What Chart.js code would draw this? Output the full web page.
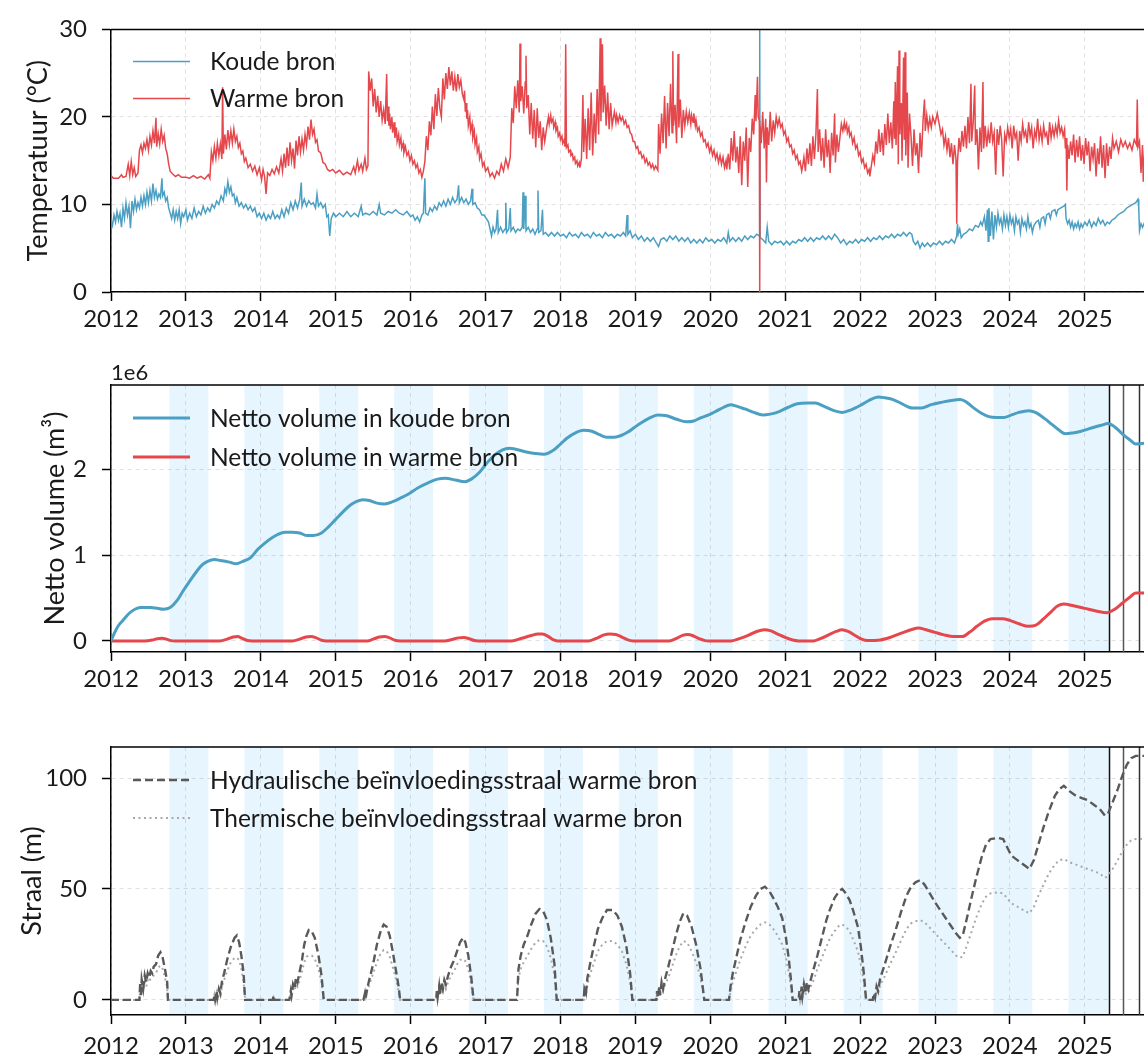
<!DOCTYPE html>
<html>
<head>
<meta charset="utf-8">
<title>Bronnen</title>
<script src="https://cdn.jsdelivr.net/npm/chart.js@4.4.1/dist/chart.umd.min.js"></script>
<style>
    html, body { margin: 0; padding: 0; background: #fff; overflow: hidden; }
    #wrap { position: relative; width: 1144px; height: 1059px; }
    .paneel { position: absolute; left: 0; width: 1144px; }
    canvas { display: block; }
</style>
</head>
<body>
<div id="wrap">
    <div class="paneel" style="top:0"><canvas id="tempChart" width="1144" height="340"></canvas></div>
    <div class="paneel" style="top:340px"><canvas id="volumeChart" width="1144" height="360"></canvas></div>
    <div class="paneel" style="top:700px"><canvas id="straalChart" width="1144" height="359"></canvas></div>
</div>
<script>
// Data (x = decimal year)
const jaren = [2012, 2013, 2014, 2015, 2016, 2017, 2018, 2019, 2020, 2021, 2022, 2023, 2024, 2025];
const xEinde = 2025.79;

const koudeBron = [
    [2012.00,8.2],[2012.02,7.6],[2012.04,8.8],[2012.06,8.0],[2012.08,9.2],[2012.10,8.2],[2012.12,9.0],[2012.14,7.4],[2012.16,9.6],[2012.18,8.4],
    [2012.20,10.2],[2012.22,8.8],[2012.24,9.8],[2012.26,7.3],[2012.28,10.4],[2012.30,9.2],[2012.32,10.6],[2012.34,9.4],[2012.36,10.2],[2012.38,9.6],
    [2012.40,10.8],[2012.42,9.8],[2012.44,11.0],[2012.46,10.0],[2012.48,11.4],[2012.50,10.2],[2012.52,11.6],[2012.54,10.4],[2012.56,12.4],[2012.58,10.8],
    [2012.60,11.6],[2012.62,10.6],[2012.64,11.2],[2012.66,10.8],[2012.68,13.0],[2012.69,11.0],[2012.71,11.4],[2012.73,10.4],[2012.75,10.8],[2012.77,9.6],
    [2012.79,9.0],[2012.81,8.4],[2012.83,9.4],[2012.85,8.2],[2012.87,9.2],[2012.89,8.4],[2012.91,9.4],[2012.93,7.8],[2012.95,9.0],[2012.97,8.6],
    [2013.00,9.4],[2013.02,8.2],[2013.05,9.0],[2013.08,8.4],[2013.11,9.6],[2013.14,8.6],[2013.17,9.2],[2013.20,8.8],[2013.23,9.8],[2013.26,9.0],
    [2013.29,9.6],[2013.32,9.2],[2013.35,10.0],[2013.38,9.6],[2013.41,10.4],[2013.44,10.0],[2013.47,11.0],[2013.50,10.4],[2013.52,11.8],[2013.54,11.2],
    [2013.56,12.6],[2013.58,11.4],[2013.60,12.0],[2013.62,11.0],[2013.64,11.2],[2013.66,10.2],[2013.68,10.8],[2013.71,9.8],[2013.74,10.2],[2013.77,9.6],
    [2013.80,10.0],[2013.83,9.4],[2013.86,9.8],[2013.89,9.2],[2013.92,9.6],[2013.95,8.6],[2013.98,9.0],[2014.01,8.4],[2014.04,9.0],[2014.07,8.2],
    [2014.10,8.8],[2014.13,8.4],[2014.16,9.2],[2014.19,8.4],[2014.22,8.8],[2014.25,8.4],[2014.28,9.4],[2014.31,8.6],[2014.34,9.6],[2014.37,9.0],
    [2014.40,10.2],[2014.43,9.4],[2014.46,10.4],[2014.49,9.6],[2014.52,10.6],[2014.54,12.5],[2014.55,9.8],[2014.58,10.6],[2014.61,9.8],[2014.64,10.4],
    [2014.67,10.0],[2014.70,10.2],[2014.73,9.6],[2014.75,11.2],[2014.77,9.8],[2014.80,10.2],[2014.83,9.6],[2014.86,10.0],[2014.88,8.6],[2014.90,8.8],
    [2014.92,6.4],[2014.94,8.4],[2014.97,9.0],[2015.00,8.6],[2015.05,9.0],[2015.10,8.6],[2015.15,9.2],[2015.20,8.6],[2015.25,9.0],[2015.30,8.6],
    [2015.34,9.8],[2015.36,8.8],[2015.40,9.0],[2015.45,8.8],[2015.50,9.2],[2015.55,8.8],[2015.58,10.0],[2015.60,9.0],[2015.65,8.8],[2015.70,9.2],
    [2015.75,9.0],[2015.80,9.4],[2015.85,9.0],[2015.90,8.8],[2015.95,9.2],[2016.00,8.6],[2016.03,8.8],[2016.06,8.2],[2016.09,8.6],[2016.12,8.0],
    [2016.15,8.8],[2016.17,9.0],[2016.19,13.0],[2016.20,9.0],[2016.23,8.8],[2016.26,9.6],[2016.29,9.2],[2016.32,9.8],[2016.35,9.4],[2016.38,10.2],
    [2016.41,9.8],[2016.44,10.4],[2016.47,9.8],[2016.50,10.6],[2016.53,10.0],[2016.56,10.8],[2016.59,10.2],[2016.62,10.6],[2016.64,12.2],[2016.65,10.2],
    [2016.68,10.8],[2016.71,10.2],[2016.74,10.6],[2016.77,10.0],[2016.80,10.4],[2016.82,11.8],[2016.83,10.0],[2016.86,10.2],[2016.89,9.6],[2016.92,9.4],
    [2016.95,8.8],[2016.98,8.8],[2017.01,8.4],[2017.04,8.0],[2017.06,7.2],[2017.08,6.4],[2017.10,7.4],[2017.12,6.8],[2017.14,7.2],[2017.16,9.4],
    [2017.17,6.8],[2017.20,7.4],[2017.23,6.8],[2017.26,7.2],[2017.27,10.2],[2017.28,6.8],[2017.31,7.2],[2017.33,9.6],[2017.34,7.0],[2017.37,7.4],
    [2017.40,6.8],[2017.43,7.2],[2017.46,7.0],[2017.49,7.4],[2017.50,11.4],[2017.51,7.2],[2017.53,11.0],[2017.54,7.0],[2017.57,7.4],[2017.60,6.8],
    [2017.63,7.2],[2017.66,6.6],[2017.69,7.2],[2017.70,11.6],[2017.71,6.8],[2017.74,7.0],[2017.76,9.4],[2017.77,6.6],[2017.80,6.8],[2017.84,6.4],
    [2017.88,6.8],[2017.92,6.4],[2017.96,6.8],[2018.00,6.4],[2018.04,6.6],[2018.08,6.2],[2018.12,6.8],[2018.16,6.4],[2018.20,6.6],[2018.24,6.2],
    [2018.28,6.8],[2018.32,6.4],[2018.36,6.6],[2018.40,6.2],[2018.44,6.8],[2018.48,6.4],[2018.52,6.6],[2018.56,6.2],[2018.60,6.8],[2018.64,6.4],
    [2018.68,6.6],[2018.72,6.2],[2018.76,6.6],[2018.80,6.4],[2018.84,6.8],[2018.87,6.4],[2018.89,8.8],[2018.90,6.6],[2018.93,7.0],[2018.96,6.2],
    [2019.00,6.6],[2019.04,6.0],[2019.08,6.4],[2019.12,5.8],[2019.16,6.2],[2019.20,5.8],[2019.24,6.2],[2019.28,5.6],[2019.31,5.2],[2019.34,6.0],
    [2019.38,6.2],[2019.42,5.8],[2019.46,6.4],[2019.50,6.0],[2019.54,6.4],[2019.58,5.8],[2019.62,6.2],[2019.66,5.8],[2019.70,6.2],[2019.74,5.6],
    [2019.78,6.0],[2019.82,5.6],[2019.86,6.0],[2019.90,5.6],[2019.94,6.2],[2019.98,5.8],[2020.02,6.0],[2020.06,5.6],[2020.10,6.0],[2020.14,5.8],
    [2020.18,6.2],[2020.22,5.6],[2020.24,6.8],[2020.26,5.8],[2020.30,6.2],[2020.34,5.8],[2020.38,6.2],[2020.42,5.8],[2020.46,6.4],[2020.50,6.0],
    [2020.54,6.4],[2020.58,6.2],[2020.62,6.6],[2020.655,6.4],[2020.66,30.0],[2020.665,6.2],[2020.70,6.0],[2020.74,5.6],[2020.76,7.4],[2020.78,5.8],
    [2020.82,5.4],[2020.86,5.8],[2020.90,5.6],[2020.94,5.8],[2020.98,5.4],[2021.02,5.8],[2021.06,5.4],[2021.10,5.8],[2021.14,5.6],[2021.18,6.0],
    [2021.22,5.8],[2021.26,6.2],[2021.30,5.8],[2021.34,6.2],[2021.38,5.8],[2021.42,6.2],[2021.46,6.0],[2021.50,6.4],[2021.54,6.0],[2021.58,6.4],
    [2021.62,6.0],[2021.66,6.6],[2021.70,6.2],[2021.74,5.6],[2021.78,6.0],[2021.82,5.4],[2021.86,5.8],[2021.90,5.6],[2021.94,6.0],[2021.98,5.6],
    [2022.02,6.0],[2022.06,5.8],[2022.10,6.2],[2022.14,5.8],[2022.18,6.2],[2022.22,6.0],[2022.26,6.4],[2022.30,6.0],[2022.34,6.4],[2022.38,6.2],
    [2022.42,6.6],[2022.46,6.2],[2022.50,6.6],[2022.54,6.4],[2022.58,6.8],[2022.62,6.4],[2022.66,6.8],[2022.69,6.6],[2022.71,5.8],[2022.74,5.4],
    [2022.77,5.8],[2022.80,5.0],[2022.83,5.6],[2022.86,5.2],[2022.90,5.6],[2022.94,5.2],[2022.98,5.6],[2023.02,5.4],[2023.06,5.8],[2023.10,5.4],
    [2023.14,5.8],[2023.18,5.6],[2023.22,6.0],[2023.26,5.6],[2023.29,6.4],[2023.30,7.8],[2023.31,6.6],[2023.33,7.2],[2023.35,6.2],[2023.38,6.6],
    [2023.42,6.8],[2023.46,7.2],[2023.50,7.0],[2023.54,7.6],[2023.58,7.4],[2023.61,8.0],[2023.63,7.6],[2023.66,8.6],[2023.68,7.0],[2023.70,9.4],
    [2023.71,5.8],[2023.72,9.6],[2023.74,6.4],[2023.76,9.2],[2023.78,6.0],[2023.80,8.8],[2023.82,7.4],[2023.84,9.0],[2023.86,7.8],[2023.88,8.4],
    [2023.90,7.2],[2023.92,8.8],[2023.94,7.6],[2023.96,8.6],[2023.98,7.4],[2024.00,8.8],[2024.02,7.8],[2024.04,8.4],[2024.06,7.0],[2024.08,8.6],
    [2024.10,7.8],[2024.12,8.2],[2024.14,6.8],[2024.16,8.4],[2024.18,7.6],[2024.20,8.0],[2024.22,7.2],[2024.24,8.6],[2024.26,7.4],[2024.28,7.8],
    [2024.30,6.8],[2024.32,7.6],[2024.35,8.0],[2024.38,8.2],[2024.40,7.4],[2024.42,8.4],[2024.45,8.6],[2024.47,7.8],[2024.49,8.8],[2024.52,9.0],
    [2024.54,8.4],[2024.56,9.2],[2024.60,9.4],[2024.62,8.8],[2024.64,9.4],[2024.68,9.6],[2024.72,9.8],[2024.74,10.0],[2024.75,8.4],[2024.77,7.8],
    [2024.79,8.2],[2024.81,7.4],[2024.83,8.0],[2024.85,7.2],[2024.87,7.8],[2024.89,7.4],[2024.91,8.0],[2024.93,7.2],[2024.95,7.8],[2024.97,7.4],
    [2025.00,8.0],[2025.03,7.6],[2025.06,8.2],[2025.09,7.4],[2025.12,8.0],[2025.15,7.6],[2025.18,8.4],[2025.21,7.8],[2025.24,8.2],[2025.27,7.6],
    [2025.30,8.0],[2025.33,7.8],[2025.36,8.2],[2025.40,8.4],[2025.44,8.8],[2025.48,9.0],[2025.52,9.2],[2025.56,9.6],[2025.60,9.8],[2025.64,10.0],
    [2025.68,10.2],[2025.71,10.6],[2025.72,9.6],[2025.73,7.0],[2025.75,7.8],[2025.77,7.4],[2025.80,8.0]
];

const warmeBron = [
    [2012.00,13.3],[2012.03,13.0],[2012.10,13.0],[2012.14,13.4],[2012.16,13.1],[2012.20,13.2],[2012.23,14.6],[2012.25,13.3],[2012.27,14.9],[2012.29,13.4],
    [2012.31,14.2],[2012.33,13.2],[2012.36,13.6],[2012.38,16.2],[2012.40,16.8],[2012.42,15.9],[2012.44,17.0],[2012.46,16.4],[2012.48,17.4],[2012.50,16.2],
    [2012.52,17.8],[2012.54,16.8],[2012.56,18.4],[2012.58,17.0],[2012.60,19.9],[2012.61,16.6],[2012.63,18.1],[2012.65,16.9],[2012.67,18.6],[2012.69,17.2],
    [2012.71,17.9],[2012.73,16.4],[2012.75,15.8],[2012.77,14.6],[2012.79,13.8],[2012.82,13.5],[2012.86,13.2],[2012.90,13.4],[2012.94,13.1],[2013.00,13.1],
    [2013.05,13.0],[2013.10,13.3],[2013.15,13.0],[2013.20,13.2],[2013.25,12.9],[2013.30,13.4],[2013.32,13.0],[2013.34,16.0],[2013.36,15.0],[2013.38,16.6],
    [2013.40,15.3],[2013.42,17.0],[2013.44,15.6],[2013.46,16.9],[2013.48,15.2],[2013.49,23.4],[2013.50,15.8],[2013.52,18.0],[2013.54,16.3],[2013.56,18.5],
    [2013.58,16.9],[2013.60,18.4],[2013.62,17.0],[2013.64,18.6],[2013.66,17.2],[2013.68,17.8],[2013.70,16.5],[2013.72,17.0],[2013.74,15.8],[2013.76,16.1],
    [2013.78,14.9],[2013.80,15.3],[2013.83,14.2],[2013.86,14.6],[2013.89,13.8],[2013.92,14.4],[2013.95,13.4],[2013.98,14.2],[2014.01,12.8],[2014.03,14.0],
    [2014.05,13.2],[2014.07,11.2],[2014.09,13.6],[2014.12,13.3],[2014.15,14.0],[2014.18,13.5],[2014.21,14.3],[2014.24,13.6],[2014.27,15.2],[2014.29,13.8],
    [2014.31,15.8],[2014.33,14.2],[2014.35,16.5],[2014.37,14.4],[2014.39,17.1],[2014.41,15.0],[2014.43,16.4],[2014.45,14.1],[2014.47,17.3],[2014.49,15.6],
    [2014.51,17.8],[2014.53,16.0],[2014.55,17.5],[2014.57,16.2],[2014.59,18.0],[2014.61,16.8],[2014.63,18.9],[2014.65,17.4],[2014.67,19.7],[2014.69,18.0],
    [2014.71,18.6],[2014.73,17.1],[2014.75,17.4],[2014.77,16.1],[2014.80,15.9],[2014.83,14.8],[2014.86,14.6],[2014.89,14.0],[2014.92,13.8],[2014.96,14.0],
    [2015.00,13.6],[2015.05,13.9],[2015.10,13.4],[2015.15,13.7],[2015.20,13.4],[2015.24,14.3],[2015.26,13.6],[2015.29,15.0],[2015.31,13.9],[2015.34,14.6],
    [2015.36,13.8],[2015.39,15.3],[2015.41,14.0],[2015.43,14.4],[2015.44,25.2],[2015.46,23.0],[2015.48,24.4],[2015.50,21.2],[2015.52,23.2],[2015.54,20.5],
    [2015.56,22.4],[2015.58,20.0],[2015.60,21.8],[2015.62,19.6],[2015.64,20.8],[2015.66,19.2],[2015.68,24.9],[2015.69,19.5],[2015.70,21.2],[2015.71,19.0],
    [2015.72,20.4],[2015.73,18.6],[2015.75,20.0],[2015.76,18.2],[2015.78,19.4],[2015.79,17.6],[2015.81,18.8],[2015.82,17.2],[2015.84,18.0],[2015.85,16.8],
    [2015.87,17.6],[2015.88,16.4],[2015.90,17.0],[2015.91,15.9],[2015.93,16.6],[2015.95,15.6],[2015.97,16.0],[2015.99,15.0],[2016.01,15.6],[2016.03,14.6],
    [2016.05,15.0],[2016.07,14.2],[2016.09,14.6],[2016.11,13.6],[2016.13,14.0],[2016.15,13.1],[2016.17,13.8],[2016.19,14.9],[2016.21,17.8],[2016.23,16.2],
    [2016.25,19.5],[2016.27,17.9],[2016.29,21.2],[2016.31,18.6],[2016.33,22.6],[2016.35,20.1],[2016.37,23.3],[2016.39,21.0],[2016.41,20.0],[2016.43,24.4],
    [2016.45,22.0],[2016.47,25.0],[2016.49,23.2],[2016.51,25.7],[2016.53,23.6],[2016.55,25.2],[2016.57,23.0],[2016.59,24.6],[2016.61,22.9],[2016.63,24.9],
    [2016.65,23.4],[2016.67,24.2],[2016.69,22.6],[2016.71,22.0],[2016.72,23.0],[2016.73,20.6],[2016.74,21.6],[2016.75,19.8],[2016.76,20.8],[2016.77,19.0],
    [2016.79,20.0],[2016.80,18.4],[2016.82,19.2],[2016.83,17.6],[2016.85,18.4],[2016.86,16.8],[2016.88,17.6],[2016.89,16.0],[2016.91,16.6],[2016.92,15.2],
    [2016.94,15.8],[2016.96,14.4],[2016.98,14.8],[2017.00,13.8],[2017.03,14.2],[2017.06,13.2],[2017.09,13.6],[2017.12,13.0],[2017.15,13.8],[2017.18,13.4],
    [2017.21,14.6],[2017.24,13.8],[2017.27,15.2],[2017.30,14.2],[2017.33,15.4],[2017.35,21.0],[2017.37,19.3],[2017.39,23.5],[2017.41,21.0],[2017.43,24.2],
    [2017.45,20.5],[2017.46,28.4],[2017.47,21.8],[2017.49,23.5],[2017.51,20.4],[2017.53,24.0],[2017.54,27.0],[2017.55,21.0],[2017.57,22.5],[2017.59,18.0],
    [2017.61,21.6],[2017.63,17.5],[2017.65,20.8],[2017.67,16.5],[2017.69,21.0],[2017.71,17.6],[2017.73,19.5],[2017.75,16.2],[2017.77,18.8],[2017.79,17.2],
    [2017.82,19.0],[2017.84,20.0],[2017.85,19.2],[2017.87,20.2],[2017.88,19.4],[2017.90,19.8],[2017.91,18.8],[2017.93,19.4],[2017.94,18.4],[2017.96,18.8],
    [2017.97,17.8],[2017.99,18.2],[2018.00,17.4],[2018.02,17.8],[2018.03,17.0],[2018.05,17.4],[2018.06,16.6],[2018.07,28.3],[2018.08,16.5],[2018.10,16.8],
    [2018.11,16.0],[2018.13,16.2],[2018.14,15.6],[2018.16,15.8],[2018.17,15.1],[2018.19,15.4],[2018.20,14.7],[2018.22,15.0],[2018.23,14.4],[2018.25,14.8],
    [2018.26,14.2],[2018.28,15.2],[2018.30,22.5],[2018.31,16.0],[2018.33,19.8],[2018.35,15.2],[2018.37,21.0],[2018.39,16.2],[2018.41,22.8],[2018.43,15.6],
    [2018.45,20.4],[2018.47,17.0],[2018.49,23.2],[2018.51,18.0],[2018.53,29.0],[2018.54,19.5],[2018.56,28.3],[2018.57,20.5],[2018.59,23.6],[2018.61,19.0],
    [2018.63,22.8],[2018.65,18.6],[2018.67,21.6],[2018.69,19.0],[2018.72,20.6],[2018.74,19.4],[2018.75,20.2],[2018.77,19.4],[2018.79,20.2],[2018.81,19.6],
    [2018.83,20.0],[2018.85,19.2],[2018.87,19.6],[2018.89,18.8],[2018.91,19.0],[2018.93,18.2],[2018.95,18.0],[2018.97,17.2],[2018.99,17.2],[2019.01,16.4],
    [2019.03,16.6],[2019.05,15.8],[2019.07,16.0],[2019.09,15.3],[2019.11,15.6],[2019.13,14.8],[2019.15,15.2],[2019.17,14.5],[2019.19,14.8],[2019.21,14.2],
    [2019.23,14.6],[2019.25,14.0],[2019.27,14.4],[2019.30,13.9],[2019.31,19.2],[2019.33,15.8],[2019.35,20.4],[2019.37,17.0],[2019.39,22.4],[2019.41,16.4],
    [2019.43,21.6],[2019.45,17.8],[2019.47,23.8],[2019.49,18.2],[2019.50,27.5],[2019.51,19.0],[2019.53,21.4],[2019.55,17.0],[2019.57,27.2],[2019.58,18.8],
    [2019.60,22.0],[2019.62,17.6],[2019.64,20.8],[2019.66,19.0],[2019.68,20.6],[2019.70,19.4],[2019.72,20.5],[2019.74,19.2],[2019.75,20.2],[2019.77,19.4],
    [2019.78,20.4],[2019.80,19.0],[2019.81,19.6],[2019.83,18.4],[2019.85,18.8],[2019.87,17.8],[2019.89,18.2],[2019.91,17.2],[2019.93,17.4],[2019.95,16.6],
    [2019.97,17.0],[2019.99,16.0],[2020.01,16.6],[2020.03,15.6],[2020.05,16.2],[2020.07,15.2],[2020.09,15.8],[2020.11,14.8],[2020.13,15.6],[2020.15,14.6],
    [2020.17,15.4],[2020.19,14.2],[2020.21,15.0],[2020.22,14.0],[2020.24,15.8],[2020.26,14.0],[2020.28,17.6],[2020.30,15.0],[2020.32,18.4],[2020.34,14.8],
    [2020.36,16.6],[2020.38,13.6],[2020.40,17.8],[2020.42,12.2],[2020.44,17.2],[2020.46,15.0],[2020.48,18.8],[2020.50,12.0],[2020.52,17.6],[2020.54,16.0],
    [2020.56,19.8],[2020.58,18.0],[2020.60,22.5],[2020.61,19.5],[2020.63,24.6],[2020.64,20.0],[2020.655,19.6],[2020.66,0.0],[2020.665,19.0],[2020.68,17.0],
    [2020.70,20.6],[2020.72,16.4],[2020.74,19.8],[2020.75,12.5],[2020.76,18.8],[2020.78,16.8],[2020.80,20.6],[2020.82,17.2],[2020.84,19.6],[2020.86,18.2],
    [2020.88,20.0],[2020.90,19.0],[2020.92,19.8],[2020.94,18.8],[2020.96,19.2],[2020.98,18.0],[2021.00,18.4],[2021.02,17.2],[2021.04,17.6],[2021.06,16.6],
    [2021.08,16.8],[2021.10,15.8],[2021.12,16.2],[2021.14,15.2],[2021.16,15.6],[2021.18,14.6],[2021.20,14.9],[2021.22,13.8],[2021.23,14.2],[2021.25,15.4],
    [2021.27,13.8],[2021.29,16.4],[2021.31,14.6],[2021.33,17.0],[2021.35,14.4],[2021.37,17.8],[2021.39,15.2],[2021.41,18.0],[2021.43,23.2],[2021.44,16.0],
    [2021.46,18.6],[2021.48,15.0],[2021.50,17.6],[2021.52,14.2],[2021.54,18.6],[2021.56,15.4],[2021.58,17.4],[2021.60,13.6],[2021.62,18.2],[2021.64,15.6],
    [2021.66,20.4],[2021.67,14.8],[2021.69,18.0],[2021.71,16.0],[2021.73,17.6],[2021.75,19.2],[2021.77,18.4],[2021.79,19.4],[2021.80,18.6],[2021.82,19.2],
    [2021.83,18.2],[2021.85,18.8],[2021.86,17.8],[2021.88,18.2],[2021.90,17.0],[2021.92,17.6],[2021.94,16.4],[2021.96,16.8],[2021.98,15.6],[2022.00,16.0],
    [2022.02,14.8],[2022.04,15.2],[2022.06,14.2],[2022.08,14.6],[2022.10,13.6],[2022.12,14.0],[2022.13,13.2],[2022.15,14.4],[2022.17,15.6],[2022.19,14.8],
    [2022.21,17.2],[2022.23,15.8],[2022.25,18.6],[2022.27,16.0],[2022.29,18.2],[2022.31,15.6],[2022.33,19.2],[2022.35,16.8],[2022.37,20.4],[2022.39,17.0],
    [2022.41,19.4],[2022.43,16.4],[2022.45,21.8],[2022.46,17.5],[2022.47,24.0],[2022.48,16.8],[2022.50,25.8],[2022.51,14.6],[2022.52,27.6],[2022.53,18.0],
    [2022.55,21.6],[2022.56,15.0],[2022.58,26.8],[2022.59,17.4],[2022.60,27.4],[2022.61,15.6],[2022.63,22.8],[2022.64,14.2],[2022.66,20.4],[2022.68,17.8],
    [2022.70,14.4],[2022.72,18.6],[2022.74,15.6],[2022.76,17.0],[2022.78,13.6],[2022.80,18.2],[2022.82,15.4],[2022.84,19.6],[2022.86,22.0],[2022.87,18.4],
    [2022.89,20.2],[2022.91,18.6],[2022.93,19.8],[2022.95,18.8],[2022.97,20.0],[2023.00,19.2],[2023.03,20.4],[2023.06,19.0],[2023.08,18.0],[2023.10,18.6],
    [2023.12,16.8],[2023.14,17.8],[2023.16,16.2],[2023.18,17.6],[2023.20,15.4],[2023.22,17.0],[2023.24,14.6],[2023.26,16.8],[2023.28,15.2],[2023.29,7.8],
    [2023.30,14.8],[2023.32,17.6],[2023.34,16.0],[2023.36,18.4],[2023.38,16.6],[2023.40,19.0],[2023.42,16.4],[2023.44,20.0],[2023.46,17.0],[2023.48,23.8],
    [2023.49,17.2],[2023.51,19.4],[2023.53,23.6],[2023.54,16.8],[2023.56,18.6],[2023.58,14.0],[2023.60,18.8],[2023.62,16.0],[2023.64,24.0],[2023.65,16.4],
    [2023.67,19.0],[2023.69,16.6],[2023.71,18.4],[2023.73,17.0],[2023.75,19.4],[2023.77,17.2],[2023.79,18.2],[2023.81,13.4],[2023.83,18.6],[2023.85,16.8],
    [2023.87,19.0],[2023.89,17.4],[2023.91,13.2],[2023.93,18.0],[2023.95,17.2],[2023.97,18.8],[2023.99,17.6],[2024.01,18.6],[2024.03,16.4],[2024.05,19.0],
    [2024.07,17.6],[2024.09,18.2],[2024.11,15.0],[2024.13,18.4],[2024.15,17.2],[2024.17,19.2],[2024.19,17.8],[2024.21,18.4],[2024.23,17.0],[2024.25,19.4],
    [2024.27,17.8],[2024.29,18.8],[2024.31,16.4],[2024.33,18.4],[2024.35,17.6],[2024.37,19.8],[2024.39,17.4],[2024.41,18.6],[2024.43,17.2],[2024.45,19.0],
    [2024.47,17.8],[2024.49,18.2],[2024.51,16.8],[2024.53,19.4],[2024.55,17.6],[2024.57,18.8],[2024.59,17.8],[2024.61,19.0],[2024.63,18.0],[2024.65,19.6],
    [2024.67,18.2],[2024.69,18.8],[2024.71,17.8],[2024.73,18.6],[2024.74,16.4],[2024.75,17.6],[2024.76,11.6],[2024.77,16.8],[2024.79,15.2],[2024.81,17.2],
    [2024.83,15.6],[2024.85,18.0],[2024.87,14.8],[2024.89,17.4],[2024.91,15.4],[2024.93,17.8],[2024.95,15.0],[2024.97,16.8],[2024.99,14.6],[2025.01,17.6],
    [2025.03,15.6],[2025.05,17.2],[2025.07,13.8],[2025.09,16.6],[2025.11,15.2],[2025.13,17.0],[2025.15,13.2],[2025.17,16.4],[2025.19,14.6],[2025.21,17.8],
    [2025.23,14.2],[2025.25,16.8],[2025.27,13.0],[2025.29,17.0],[2025.31,14.4],[2025.33,16.6],[2025.35,15.2],[2025.37,17.6],[2025.39,16.4],[2025.42,17.2],
    [2025.45,16.0],[2025.48,17.4],[2025.51,16.6],[2025.54,17.2],[2025.57,16.4],[2025.60,17.0],[2025.63,16.2],[2025.66,17.4],[2025.69,16.8],[2025.70,22.0],
    [2025.71,16.6],[2025.73,17.2],[2025.75,13.6],[2025.77,16.8],[2025.78,12.6],[2025.80,16.4]
];

// netto volume, in 1e6 m3
const volumeKoude = [
    [2012.00,0.00],[2012.05,0.10],[2012.10,0.18],[2012.15,0.23],[2012.24,0.32],[2012.32,0.37],[2012.39,0.39],[2012.53,0.39],[2012.62,0.38],[2012.70,0.37],
    [2012.79,0.39],[2012.88,0.47],[2012.96,0.58],[2013.06,0.71],[2013.15,0.82],[2013.22,0.89],[2013.29,0.93],[2013.38,0.95],[2013.46,0.94],[2013.58,0.92],
    [2013.67,0.90],[2013.76,0.93],[2013.86,0.97],[2013.96,1.07],[2014.05,1.14],[2014.14,1.20],[2014.22,1.24],[2014.32,1.27],[2014.42,1.27],[2014.52,1.26],
    [2014.62,1.23],[2014.70,1.23],[2014.81,1.26],[2014.90,1.33],[2015.00,1.42],[2015.10,1.51],[2015.20,1.59],[2015.28,1.63],[2015.36,1.65],[2015.45,1.64],
    [2015.55,1.61],[2015.65,1.60],[2015.77,1.63],[2015.87,1.67],[2015.96,1.71],[2016.10,1.79],[2016.24,1.85],[2016.36,1.89],[2016.46,1.90],[2016.60,1.88],
    [2016.72,1.86],[2016.81,1.89],[2016.92,1.97],[2017.02,2.08],[2017.12,2.17],[2017.22,2.23],[2017.32,2.25],[2017.40,2.24],[2017.53,2.21],[2017.66,2.19],
    [2017.78,2.18],[2017.91,2.23],[2018.00,2.30],[2018.09,2.37],[2018.20,2.43],[2018.31,2.46],[2018.42,2.45],[2018.52,2.41],[2018.62,2.38],[2018.72,2.38],
    [2018.81,2.40],[2018.90,2.44],[2018.98,2.49],[2019.08,2.55],[2019.18,2.60],[2019.30,2.64],[2019.42,2.63],[2019.55,2.59],[2019.68,2.56],[2019.78,2.57],
    [2019.88,2.61],[2019.98,2.64],[2020.09,2.69],[2020.18,2.73],[2020.27,2.76],[2020.36,2.74],[2020.46,2.71],[2020.58,2.67],[2020.70,2.64],[2020.80,2.65],
    [2020.92,2.68],[2021.04,2.73],[2021.16,2.77],[2021.30,2.78],[2021.40,2.78],[2021.52,2.74],[2021.65,2.69],[2021.76,2.67],[2021.88,2.70],[2022.00,2.75],
    [2022.12,2.81],[2022.24,2.85],[2022.33,2.84],[2022.44,2.82],[2022.56,2.77],[2022.70,2.72],[2022.82,2.72],[2022.95,2.76],[2023.10,2.79],[2023.22,2.81],
    [2023.34,2.82],[2023.42,2.79],[2023.52,2.72],[2023.62,2.66],[2023.72,2.62],[2023.82,2.61],[2023.92,2.61],[2024.02,2.64],[2024.12,2.67],[2024.25,2.69],
    [2024.34,2.67],[2024.46,2.60],[2024.56,2.53],[2024.66,2.46],[2024.74,2.42],[2024.84,2.43],[2024.95,2.45],[2025.10,2.49],[2025.22,2.52],[2025.31,2.54],
    [2025.40,2.50],[2025.50,2.42],[2025.60,2.35],[2025.68,2.30],[2025.80,2.31]
];

const volumeWarm = [
    [2012.00,0],[2012.45,0],[2012.55,0.01],[2012.62,0.025],[2012.68,0.03],[2012.74,0.02],[2012.80,0.003],[2012.86,0],[2013.45,0],[2013.55,0.02],
    [2013.63,0.045],[2013.69,0.05],[2013.75,0.03],[2013.82,0.005],[2013.88,0],[2014.42,0],[2014.52,0.02],[2014.60,0.045],[2014.67,0.05],[2014.74,0.035],
    [2014.81,0.008],[2014.88,0],[2015.42,0],[2015.50,0.02],[2015.58,0.045],[2015.65,0.05],[2015.72,0.035],[2015.79,0.008],[2015.86,0],[2016.45,0],
    [2016.55,0.015],[2016.64,0.035],[2016.71,0.04],[2016.78,0.025],[2016.85,0.005],[2016.90,0],[2017.35,0],[2017.48,0.03],[2017.60,0.06],[2017.70,0.08],
    [2017.76,0.08],[2017.84,0.05],[2017.90,0.015],[2017.96,0],[2018.38,0],[2018.48,0.03],[2018.58,0.07],[2018.66,0.08],[2018.74,0.075],[2018.82,0.045],
    [2018.90,0.012],[2018.97,0],[2019.45,0],[2019.55,0.03],[2019.63,0.065],[2019.70,0.075],[2019.77,0.06],[2019.85,0.025],[2019.93,0.003],[2019.98,0],
    [2020.28,0],[2020.40,0.03],[2020.52,0.07],[2020.62,0.11],[2020.72,0.13],[2020.80,0.12],[2020.90,0.08],[2021.00,0.04],[2021.10,0.01],[2021.18,0],
    [2021.38,0],[2021.48,0.03],[2021.58,0.07],[2021.68,0.11],[2021.76,0.13],[2021.84,0.11],[2021.94,0.06],[2022.02,0.02],[2022.10,0.003],[2022.27,0.01],
    [2022.40,0.04],[2022.55,0.09],[2022.68,0.13],[2022.78,0.15],[2022.88,0.13],[2023.00,0.10],[2023.12,0.07],[2023.25,0.05],[2023.36,0.05],[2023.46,0.10],
    [2023.56,0.17],[2023.66,0.23],[2023.76,0.26],[2023.90,0.26],[2024.00,0.24],[2024.12,0.20],[2024.25,0.17],[2024.34,0.18],[2024.44,0.25],[2024.55,0.34],
    [2024.64,0.41],[2024.72,0.43],[2024.85,0.41],[2025.00,0.38],[2025.15,0.35],[2025.30,0.33],[2025.40,0.37],[2025.50,0.44],[2025.60,0.51],[2025.68,0.56],
    [2025.80,0.56]
];

const straalHydraulisch = [
    [2012.00,0],[2012.38,0],[2012.39,8],[2012.40,2],[2012.41,9],[2012.43,5],[2012.45,11],[2012.47,8],[2012.49,12],[2012.51,10],[2012.53,13],[2012.55,12],
    [2012.57,15],[2012.60,16],[2012.63,20],[2012.66,21.5],[2012.69,19],[2012.72,14],[2012.75,8],[2012.76,0],
    [2013.37,0],[2013.38,2],[2013.39,0],[2013.41,4],[2013.42,1],[2013.44,5],[2013.46,3],[2013.48,8],[2013.51,12],[2013.55,18],[2013.60,24],[2013.65,28],
    [2013.68,29],[2013.71,26],[2013.74,20],[2013.77,12],[2013.79,0],
    [2014.16,0],[2014.17,2],[2014.18,0],[2014.38,0],[2014.40,4],[2014.41,2],[2014.43,7],[2014.45,5],[2014.47,10],[2014.49,8],[2014.52,13],[2014.55,18],
    [2014.58,25],[2014.61,29],[2014.64,31.5],[2014.68,31],[2014.72,28],[2014.77,20],[2014.81,11],[2014.84,0],
    [2015.37,0],[2015.39,3],[2015.40,1],[2015.42,5],[2015.44,8],[2015.47,12],[2015.51,18],[2015.55,25],[2015.60,31],[2015.64,34],[2015.68,33],[2015.72,29],
    [2015.76,22],[2015.80,14],[2015.84,6],[2015.86,0],
    [2016.34,0],[2016.35,4],[2016.36,1],[2016.38,6],[2016.39,2],[2016.41,8],[2016.43,5],[2016.45,9],[2016.47,7],[2016.50,11],[2016.54,15],[2016.58,18],
    [2016.62,22],[2016.66,26],[2016.70,28],[2016.73,26],[2016.77,20],[2016.81,10],[2016.84,0],
    [2017.42,0],[2017.44,14],[2017.47,20],[2017.51,25],[2017.56,29],[2017.61,34],[2017.67,39],[2017.72,41],[2017.77,40],[2017.82,36],[2017.87,28],[2017.92,16],
    [2017.95,0],
    [2018.31,0],[2018.32,5],[2018.34,3],[2018.36,10],[2018.40,17],[2018.45,25],[2018.50,32],[2018.56,37],[2018.62,40.5],[2018.70,40.5],[2018.76,38],[2018.82,33],
    [2018.88,24],[2018.93,12],[2018.96,0],
    [2019.28,0],[2019.29,4],[2019.30,1],[2019.32,6],[2019.33,2],[2019.35,8],[2019.37,5],[2019.40,10],[2019.44,15],[2019.49,22],[2019.54,29],[2019.59,35],
    [2019.64,39],[2019.69,38],[2019.75,33],[2019.81,25],[2019.87,14],[2019.92,0],
    [2020.25,0],[2020.27,6],[2020.30,12],[2020.34,18],[2020.40,27],[2020.47,35],[2020.54,42],[2020.61,47],[2020.67,50],[2020.73,51],[2020.79,49],[2020.84,46],
    [2020.90,42],[2020.96,37],[2021.01,28],[2021.05,18],[2021.08,8],[2021.10,0],
    [2021.18,0],[2021.19,4],[2021.20,0],[2021.22,6],[2021.23,2],[2021.25,7],[2021.27,3],[2021.29,8],[2021.31,5],[2021.34,9],[2021.38,14],[2021.43,20],
    [2021.49,28],[2021.55,36],[2021.60,41],[2021.66,46],[2021.72,49],[2021.76,50],[2021.81,48],[2021.86,45],[2021.91,40],[2021.97,33],[2022.01,24],[2022.05,12],
    [2022.08,0],
    [2022.17,0],[2022.18,3],[2022.20,1],[2022.22,6],[2022.24,4],[2022.27,10],[2022.32,15],[2022.40,24],[2022.47,31],[2022.55,40],[2022.62,47],[2022.68,51],
    [2022.74,53],[2022.80,54],[2022.86,52],[2022.93,48],[2023.00,44],[2023.10,39],[2023.20,34],[2023.28,30],[2023.33,28],[2023.37,29],[2023.42,36],[2023.48,45],
    [2023.55,55],[2023.62,64],[2023.68,70],[2023.74,72.5],[2023.84,73],[2023.91,72.5],[2023.96,69],[2024.02,65],[2024.10,63],[2024.18,61],[2024.26,59],
    [2024.32,63],[2024.38,70],[2024.45,78],[2024.52,85],[2024.60,92],[2024.66,95],[2024.72,96.5],[2024.80,94],[2024.88,92],[2024.96,91],[2025.04,90],
    [2025.12,88],[2025.20,86],[2025.27,83],[2025.31,84],[2025.37,89],[2025.44,95],[2025.50,101],[2025.56,106],[2025.62,109],[2025.68,110],[2025.80,110]
];

const straalThermisch = [
    [2012.00,0],[2012.38,0],[2012.39,6],[2012.40,2],[2012.41,7],[2012.43,4],[2012.45,8],[2012.47,6],[2012.49,9],[2012.51,8],[2012.53,10],[2012.57,11],
    [2012.60,12],[2012.63,14.5],[2012.66,15.5],[2012.69,14],[2012.72,10],[2012.75,6],[2012.76,0],
    [2013.37,0],[2013.38,2],[2013.39,0],[2013.41,3],[2013.42,1],[2013.44,4],[2013.46,2],[2013.48,6],[2013.51,9],[2013.55,13],[2013.60,17],[2013.65,19],
    [2013.68,19],[2013.71,18],[2013.74,14],[2013.77,8],[2013.79,0],
    [2014.16,0],[2014.17,1],[2014.18,0],[2014.38,0],[2014.40,3],[2014.41,1],[2014.43,5],[2014.45,4],[2014.47,7],[2014.49,6],[2014.52,9],[2014.55,13],
    [2014.58,17],[2014.61,19.5],[2014.64,20],[2014.68,20],[2014.72,18.5],[2014.77,14],[2014.81,8],[2014.84,0],
    [2015.37,0],[2015.39,2],[2015.40,1],[2015.42,4],[2015.44,6],[2015.47,9],[2015.51,13],[2015.55,17],[2015.60,21],[2015.64,22.5],[2015.68,22],[2015.72,19.5],
    [2015.76,15],[2015.80,10],[2015.84,4],[2015.86,0],
    [2016.34,0],[2016.35,3],[2016.36,1],[2016.38,5],[2016.39,2],[2016.41,6],[2016.43,4],[2016.45,7],[2016.47,5],[2016.50,8],[2016.54,11],[2016.58,13],
    [2016.62,16],[2016.66,18],[2016.70,18.5],[2016.73,17.5],[2016.77,14],[2016.81,7],[2016.84,0],
    [2017.42,0],[2017.44,10],[2017.47,14],[2017.51,17],[2017.56,20],[2017.61,23],[2017.67,26],[2017.72,27],[2017.77,26.5],[2017.82,24],[2017.87,19],[2017.92,11],
    [2017.95,0],
    [2018.31,0],[2018.32,4],[2018.34,2],[2018.36,7],[2018.40,12],[2018.45,17],[2018.50,22],[2018.56,25],[2018.62,26.5],[2018.70,26.5],[2018.76,25],[2018.82,22],
    [2018.88,16],[2018.93,8],[2018.96,0],
    [2019.28,0],[2019.29,3],[2019.30,1],[2019.32,4],[2019.33,2],[2019.35,6],[2019.37,4],[2019.40,7],[2019.44,10],[2019.49,15],[2019.54,20],[2019.59,24],
    [2019.64,26.5],[2019.69,26],[2019.75,22],[2019.81,17],[2019.87,10],[2019.92,0],
    [2020.25,0],[2020.27,4],[2020.30,8],[2020.34,12],[2020.40,18],[2020.47,24],[2020.54,29],[2020.61,32],[2020.67,34],[2020.73,35],[2020.79,34],[2020.84,32],
    [2020.90,29],[2020.96,25],[2021.01,19],[2021.05,12],[2021.08,5],[2021.10,0],
    [2021.18,0],[2021.19,3],[2021.20,0],[2021.22,4],[2021.23,1],[2021.25,5],[2021.27,2],[2021.29,6],[2021.31,3],[2021.34,6],[2021.38,9],[2021.43,14],
    [2021.49,19],[2021.55,24],[2021.60,28],[2021.66,31],[2021.72,33.5],[2021.76,34],[2021.81,33],[2021.86,31],[2021.91,27],[2021.97,22],[2022.01,16],[2022.05,8],
    [2022.08,0],
    [2022.17,0],[2022.18,2],[2022.20,1],[2022.22,4],[2022.24,3],[2022.27,7],[2022.32,10],[2022.40,16],[2022.47,21],[2022.55,27],[2022.62,32],[2022.68,34.5],
    [2022.74,35.5],[2022.80,36],[2022.86,35],[2022.93,32.5],[2023.00,30],[2023.10,26.5],[2023.20,23],[2023.28,20],[2023.33,19],[2023.37,19.5],[2023.42,24],
    [2023.48,30],[2023.55,37],[2023.62,43],[2023.68,46.5],[2023.74,48],[2023.84,48.5],[2023.91,48],[2023.96,46],[2024.02,43.5],[2024.10,42],[2024.18,40.5],
    [2024.26,39],[2024.32,42],[2024.38,47],[2024.45,52],[2024.52,57],[2024.60,61],[2024.66,63],[2024.72,63.5],[2024.80,62],[2024.88,61],[2024.96,60],
    [2025.04,59],[2025.12,58],[2025.20,57],[2025.27,55],[2025.31,56],[2025.37,59],[2025.44,63],[2025.50,67],[2025.56,70],[2025.62,72],[2025.68,72.5],[2025.80,72.5]
];

// stookseizoenen (shaded) and marker lines
const stookseizoenen = [
    [2012.78,2013.30],[2013.78,2014.30],[2014.78,2015.30],[2015.78,2016.30],[2016.78,2017.30],[2017.78,2018.30],[2018.78,2019.30],
    [2019.78,2020.30],[2020.78,2021.30],[2021.78,2022.30],[2022.78,2023.30],[2023.78,2024.30],[2024.78,2025.32]
];
const markerLijnen = [2025.32, 2025.51, 2025.72];
const markerKleuren = ['#111111', '#555555', '#333333'];

// Style
const FONT = 'Lato, "Open Sans", "DejaVu Sans", sans-serif';
const TEKST = '#1a1a1a';
const BLAUW = '#4b9fc2';
const ROOD = '#e4474c';
const GRID = 'rgba(0, 0, 0, 0.12)';

const toPoints = (pairs) => pairs.map(p => ({ x: p[0], y: p[1] }));

function baseOptions(cfg) {
    return {
        responsive: false,
        animation: false,
        events: [],
        layout: { padding: { top: cfg.padTop, right: 0, left: 0, bottom: 0 } },
        plugins: { legend: { display: false }, tooltip: { enabled: false } },
        elements: { point: { radius: 0 } },
        scales: {
            x: {
                type: 'linear',
                min: 2012,
                max: xEinde,
                afterFit: (s) => { s.height = cfg.xHeight; },
                afterBuildTicks: (s) => { s.ticks = jaren.map(v => ({ value: v })); },
                ticks: {
                    callback: (v) => String(v),
                    font: { family: FONT, size: 24 },
                    color: TEKST,
                    padding: cfg.xPad,
                    maxRotation: 0,
                    autoSkip: false
                },
                grid: { color: GRID, lineWidth: 1, tickColor: '#000', tickLength: 9, tickWidth: 1.5 },
                border: { display: true, color: '#000', width: 1.5, dash: [4, 4] }
            },
            y: {
                type: 'linear',
                min: cfg.yMin,
                max: cfg.yMax,
                afterFit: (s) => { s.width = 111; },
                afterBuildTicks: (s) => { s.ticks = cfg.yTicks.map(v => ({ value: v })); },
                ticks: {
                    callback: (v) => String(v),
                    font: { family: FONT, size: 24 },
                    color: TEKST,
                    padding: 15
                },
                title: {
                    display: true,
                    text: cfg.yTitle,
                    font: { family: FONT, size: 27 },
                    color: TEKST,
                    padding: { top: cfg.titlePad, bottom: 0 }
                },
                grid: { color: GRID, lineWidth: 1, tickColor: '#000', tickLength: 9, tickWidth: 1.5 },
                border: { display: true, color: '#000', width: 1.5, dash: [4, 4] }
            }
        }
    };
}

// shaded heating seasons, behind the grid
const bandenPlugin = {
    id: 'banden',
    beforeDraw(chart) {
        const { ctx, chartArea, scales } = chart;
        ctx.save();
        ctx.beginPath();
        ctx.rect(chartArea.left, chartArea.top, chartArea.right - chartArea.left, chartArea.bottom - chartArea.top);
        ctx.clip();
        ctx.fillStyle = 'rgba(135, 206, 250, 0.2)';
        stookseizoenen.forEach(([a, b]) => {
            const x1 = scales.x.getPixelForValue(a);
            const x2 = scales.x.getPixelForValue(b);
            ctx.fillRect(x1, chartArea.top, x2 - x1, chartArea.bottom - chartArea.top);
        });
        ctx.restore();
    }
};

const markerPlugin = {
    id: 'markers',
    beforeDatasetsDraw(chart) {
        const { ctx, chartArea, scales } = chart;
        ctx.save();
        ctx.lineWidth = 1.5;
        markerLijnen.forEach((v, i) => {
            const x = Math.round(scales.x.getPixelForValue(v)) + 0.5;
            ctx.strokeStyle = markerKleuren[i];
            ctx.beginPath();
            ctx.moveTo(x, chartArea.top);
            ctx.lineTo(x, chartArea.bottom);
            ctx.stroke();
        });
        ctx.restore();
    }
};

// top spine + legend drawn inside the axes
function legendPlugin(items, extraLabel) {
    return {
        id: 'legendeEnKader',
        afterDraw(chart) {
            const { ctx, chartArea } = chart;
            ctx.save();
            ctx.strokeStyle = '#000';
            ctx.lineWidth = 1.5;
            ctx.beginPath();
            ctx.moveTo(chartArea.left, chartArea.top);
            ctx.lineTo(chartArea.right, chartArea.top);
            ctx.stroke();

            ctx.font = '24.5px ' + FONT;
            ctx.textBaseline = 'middle';
            items.forEach((it) => {
                const y = chartArea.top + it.dy;
                ctx.strokeStyle = it.color;
                ctx.lineWidth = it.width;
                ctx.setLineDash(it.dash || []);
                ctx.beginPath();
                ctx.moveTo(133, y);
                ctx.lineTo(190, y);
                ctx.stroke();
                ctx.setLineDash([]);
                ctx.fillStyle = TEKST;
                ctx.fillText(it.label, 210, y + 1);
            });

            if (extraLabel) {
                ctx.font = '22px ' + FONT;
                ctx.textBaseline = 'alphabetic';
                ctx.fillStyle = TEKST;
                ctx.fillText(extraLabel, chartArea.left, chartArea.top - 5);
            }
            ctx.restore();
        }
    };
}

// Temperature
new Chart(document.getElementById('tempChart'), {
    type: 'line',
    data: {
        datasets: [
            { label: 'Koude bron', data: toPoints(koudeBron), borderColor: BLAUW, borderWidth: 1.5, order: 1 },
            { label: 'Warme bron', data: toPoints(warmeBron), borderColor: ROOD, borderWidth: 1.5, order: 0 }
        ]
    },
    options: baseOptions({
        padTop: 27, xHeight: 48, xPad: 4, yMin: 0, yMax: 30, yTicks: [0, 10, 20, 30],
        yTitle: 'Temperatuur (°C)', titlePad: 22
    }),
    plugins: [legendPlugin([
        { label: 'Koude bron', color: BLAUW, width: 1.5, dy: 32 },
        { label: 'Warme bron', color: ROOD, width: 1.5, dy: 69 }
    ])]
});

// Net volume
new Chart(document.getElementById('volumeChart'), {
    type: 'line',
    data: {
        datasets: [
            { label: 'Netto volume in koude bron', data: toPoints(volumeKoude), borderColor: BLAUW, borderWidth: 3, cubicInterpolationMode: 'monotone' },
            { label: 'Netto volume in warme bron', data: toPoints(volumeWarm), borderColor: ROOD, borderWidth: 3, cubicInterpolationMode: 'monotone' }
        ]
    },
    options: baseOptions({
        padTop: 45, xHeight: 48, xPad: 4, yMin: -0.13, yMax: 2.99, yTicks: [0, 1, 2],
        yTitle: 'Netto volume (m³)', titlePad: 39
    }),
    plugins: [bandenPlugin, markerPlugin, legendPlugin([
        { label: 'Netto volume in koude bron', color: BLAUW, width: 3, dy: 33 },
        { label: 'Netto volume in warme bron', color: ROOD, width: 3, dy: 72 }
    ], '1e6')]
});

// Influence radius
new Chart(document.getElementById('straalChart'), {
    type: 'line',
    data: {
        datasets: [
            { label: 'Hydraulische beïnvloedingsstraal warme bron', data: toPoints(straalHydraulisch), borderColor: '#595959', borderWidth: 2.4, borderDash: [8, 4] },
            { label: 'Thermische beïnvloedingsstraal warme bron', data: toPoints(straalThermisch), borderColor: '#a8a8a8', borderWidth: 2, borderDash: [2, 3.5] }
        ]
    },
    options: baseOptions({
        padTop: 47, xHeight: 44, xPad: 8, yMin: -6.8, yMax: 114, yTicks: [0, 50, 100],
        yTitle: 'Straal (m)', titlePad: 16
    }),
    plugins: [bandenPlugin, markerPlugin, legendPlugin([
        { label: 'Hydraulische beïnvloedingsstraal warme bron', color: '#595959', width: 2.4, dash: [8, 4], dy: 33 },
        { label: 'Thermische beïnvloedingsstraal warme bron', color: '#a8a8a8', width: 2, dash: [2, 3.5], dy: 71 }
    ])]
});
</script>
</body>
</html>
